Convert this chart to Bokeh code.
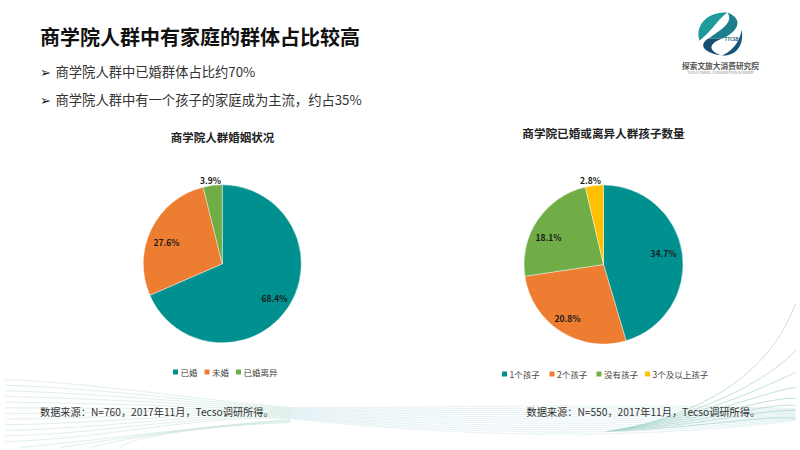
from math import pi
import numpy as np
from bokeh.plotting import figure
from bokeh.embed import file_html
from bokeh.resources import INLINE
from bokeh.core.properties import value

title_text = "商学院人群中有家庭的群体占比较高"
bullets = ["商学院人群中已婚群体占比约70%", "商学院人群中有一个孩子的家庭成为主流，约占35%"]

left_title = "商学院人群婚姻状况"
left_cats = ["已婚", "未婚", "已婚离异"]
left_vals = [68.4, 27.6, 3.9]
left_cols = ["#00908F", "#ED7D31", "#70AD47"]
left_source = "数据来源：N=760，2017年11月，Tecso调研所得。"

right_title = "商学院已婚或离异人群孩子数量"
right_cats = ["1个孩子", "2个孩子", "没有孩子", "3个及以上孩子"]
right_vals = [34.7, 20.8, 18.1, 2.8]
right_cols = ["#00908F", "#ED7D31", "#70AD47", "#FFC000"]
right_source = "数据来源：N=550，2017年11月，Tecso调研所得。"

CJK = value("Noto Sans CJK SC")
H = 450
def Y(v):
    return H - v

p = figure(width=800, height=450, x_range=(0, 800), y_range=(0, 450),
           output_backend="svg", toolbar_location=None, min_border=0,
           outline_line_color=None, background_fill_color="white")
p.axis.visible = False
p.grid.visible = False

def bez(p0, p1, p2, p3, n=50):
    t = np.linspace(0, 1, n)[:, None]
    a, b, c, d = map(np.array, (p0, p1, p2, p3))
    return (1-t)**3*a + 3*(1-t)**2*t*b + 3*(1-t)*t**2*c + t**3*d

def curve(c, color, w=0.6, alpha=0.7):
    p.line(c[:, 0], H - c[:, 1], line_color=color, line_width=w, line_alpha=alpha)

# decorative wave lines: left family
for i in range(12):
    f = i / 11
    y0 = 379 + f * 62
    curve(bez((5, y0), (100, y0 - 2 + 6 * (1 - f)), (200, 400 + 14 * f), (290, 407 + 11 * f)), "#B5DAD0")
for x0, ye in ((20, 419), (60, 420), (90, 421), (120, 422)):
    curve(bez((x0, 447), (130, 436), (210, 425), (290, ye)), "#B5DAD0")
# middle family
for i in range(14):
    f = i / 13
    curve(bez((290, 407 + 11 * f), (420, 408 + 24 * f), (600, 402 + 42 * f), (795, 408 + 12 * f)), "#BCDDE4", 0.5, 0.75)
# right fan
fan_ends = [303, 350, 372, 387, 398, 405, 410, 418]
for i, ye in enumerate(fan_ends):
    f = i / (len(fan_ends) - 1)
    curve(bez((625 - 20 * f, 428 + 3 * f), (705, 411 + 16 * f), (770 - 5 * f, 372 + 42 * f), (795, ye)), "#A4D2C4", 0.8, 0.85)

# pies
def pie(cx, cy, r, vals, cols):
    v = np.array(vals, dtype=float)
    a = np.concatenate([[0], np.cumsum(v) / v.sum()]) * 2 * pi
    p.wedge(x=[cx] * len(v), y=[Y(cy)] * len(v), radius=r,
            start_angle=pi / 2 - a[:-1], end_angle=pi / 2 - a[1:], direction="clock",
            fill_color=cols, line_color="white", line_width=0.4)

def lab(xs, ys, txt, size, color="#262626", bold=False, align="left"):
    p.text(x=xs, y=[Y(q) for q in ys], text=txt, text_font=CJK,
           text_font_size=f"{size}px", text_color=color,
           text_font_style="bold" if bold else "normal",
           text_align=align, text_baseline="middle")

pie(221.8, 263.3, 79, left_vals, left_cols)
pie(603.0, 264.0, 79.5, right_vals, right_cols)

def fmt(vals):
    return [f"{x:.1f}%" for x in vals]
lab([274, 166, 210], [297, 241, 179], fmt(left_vals), 8.5, "#1a1a1a", True, "center")
lab([663, 567, 548, 590], [252, 317, 236, 179], fmt(right_vals), 8.5, "#1a1a1a", True, "center")

# titles
lab([39.5], [36], [title_text], 20, "#111111", True)
lab([39.5, 39.5], [71, 99], ["➢", "➢"], 13, "#111111")
lab([55, 55], [71, 99], bullets, 13.3, "#333333")
lab([222], [136], [left_title], 11.5, "#222222", True, "center")
lab([603], [132], [right_title], 11.6, "#222222", True, "center")

# legends
def legend(xs, y, cats, cols):
    p.rect(x=xs, y=[Y(y)] * len(xs), width=5, height=5, fill_color=cols, line_color=None)
    lab([x + 5 for x in xs], [y] * len(xs), cats, 8.5, "#444444")
legend([175, 206.5, 238], 371.5, left_cats, left_cols)
legend([504, 551.5, 598.5, 647], 373.5, right_cats, right_cols)

lab([39.5], [411], [left_source], 10.2, "#333333")
lab([526], [411], [right_source], 10.2, "#333333")

# logo
def patch(top, bottom, color):
    xy = np.vstack([top, bottom[::-1]])
    p.patch(xy[:, 0], H - xy[:, 1], fill_color=color, line_color=None)

patch(bez((727, 12), (706, 11), (694, 26), (699, 40)), bez((727, 12), (716, 20), (712, 30), (699, 40)), "#1F9A9A")
patch(bez((727, 12), (746, 20), (734, 33), (722, 38)), bez((727, 12), (733, 22), (722, 28), (708, 38)), "#1C7F8C")
patch(bez((722, 38), (708, 43), (707, 50), (721, 55)), bez((708, 38), (698, 44), (702, 52), (721, 55)), "#174F74")
patch(bez((721, 55), (736, 56), (744, 44), (741, 29)), bez((721, 55), (732, 51), (740, 40), (741, 29)), "#15557A")
lab([731], [38], ["TTCSB"], 4.5, "#1B5E7E", True, "center")
lab([720], [65], ["探索文旅大消费研究院"], 7.7, "#555555", True, "center")
lab([720], [71.5], ["TECSO TRAVEL CONSUMPTION ACADEMY"], 3.5, "#888888", False, "center")

open("out.html", "w").write(file_html(p, INLINE))
